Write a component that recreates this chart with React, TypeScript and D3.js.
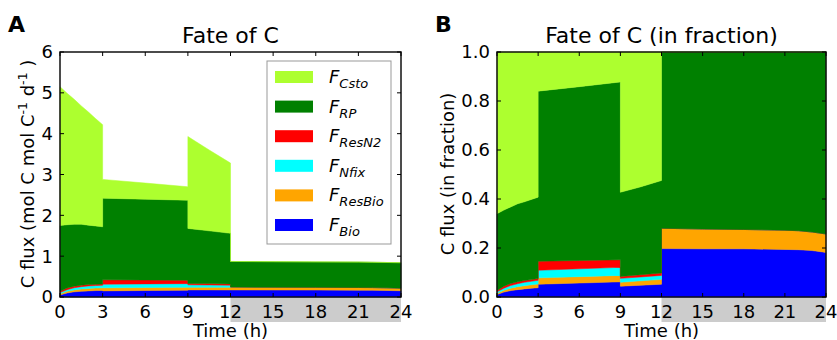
import React, { useEffect, useRef } from "react";
import * as d3 from "d3";

// time points (h); repeated times mark the light/dark switches
const times = [0, 0.5, 1, 1.5, 2, 2.5, 3, 3, 6, 9, 9, 10.5, 12, 12, 15, 18, 21, 22, 23, 24];

// carbon fluxes (mol C mol C-1 d-1)
const fBio = [0.05, 0.1, 0.126, 0.14, 0.15, 0.157, 0.16, 0.15, 0.159, 0.167, 0.173, 0.173, 0.171, 0.172, 0.17, 0.169, 0.166, 0.164, 0.16, 0.153];
const fResBio = [0.027, 0.04, 0.048, 0.057, 0.058, 0.062, 0.064, 0.075, 0.073, 0.071, 0.063, 0.065, 0.065, 0.072, 0.07, 0.068, 0.067, 0.066, 0.064, 0.063];
const fNfix = [0.031, 0.04, 0.053, 0.056, 0.064, 0.061, 0.063, 0.089, 0.089, 0.089, 0.063, 0.057, 0.053, 0, 0, 0, 0, 0, 0, 0];
const fResN2 = [0.031, 0.04, 0.039, 0.037, 0.032, 0.03, 0.03, 0.106, 0.095, 0.083, 0.031, 0.033, 0.032, 0, 0, 0, 0, 0, 0, 0];
const fRP = [1.611, 1.55, 1.514, 1.49, 1.456, 1.43, 1.403, 2.0, 1.979, 1.96, 1.35, 1.292, 1.239, 0.626, 0.625, 0.623, 0.622, 0.62, 0.621, 0.624];
const fCsto = [3.4, 3.22, 3.06, 2.9, 2.77, 2.63, 2.5, 0.46, 0.395, 0.33, 2.25, 1.98, 1.72, 0, 0, 0, 0, 0, 0, 0];

const keys = ["bio", "resBio", "nfix", "resN2", "rp", "csto"];
const colors = ["#0000ff", "#ffa500", "#00ffff", "#ff0000", "#008000", "#adff2f"];
const legendSubs = ["Csto", "RP", "ResN2", "Nfix", "ResBio", "Bio"]; // top to bottom

const xTicks = [0, 3, 6, 9, 12, 15, 18, 21, 24];
const yTicksA = [0, 1, 2, 3, 4, 5, 6];
const yTicksB = [0, 0.2, 0.4, 0.6, 0.8, 1.0];

const rows = times.map((t, i) => ({
  t,
  bio: fBio[i],
  resBio: fResBio[i],
  nfix: fNfix[i],
  resN2: fResN2[i],
  rp: fRP[i],
  csto: fCsto[i],
}));

const FONT = "DejaVu Sans, sans-serif";

function drawPanel(svg, opt) {
  const { left, right, top, bottom, yDomain, yTicks, yFmt, offset, cls } = opt;
  const g = svg.append("g").attr("class", cls);

  const x = d3.scaleLinear().domain([0, 24]).range([left, right]);
  const y = d3.scaleLinear().domain(yDomain).range([bottom, top]);

  // dark period band under the axis
  g.append("rect")
    .attr("x", x(12)).attr("y", bottom)
    .attr("width", x(24) - x(12)).attr("height", 25)
    .attr("fill", "#cccccc");

  const stack = d3.stack().keys(keys).offset(offset);
  const series = stack(rows);
  const area = d3.area()
    .x(d => x(d.data.t))
    .y0(d => y(d[0]))
    .y1(d => y(d[1]));

  g.selectAll("path.layer").data(series).join("path")
    .attr("class", "layer")
    .attr("d", area)
    .attr("fill", (d, i) => colors[i])
    .attr("stroke", (d, i) => colors[i])
    .attr("stroke-width", 0.5);

  // frame
  g.append("rect")
    .attr("x", left).attr("y", top)
    .attr("width", right - left).attr("height", bottom - top)
    .attr("fill", "none").attr("stroke", "#111").attr("stroke-width", 1.5);

  // inward ticks on all sides
  xTicks.forEach(t => {
    g.append("line").attr("x1", x(t)).attr("x2", x(t)).attr("y1", bottom).attr("y2", bottom - 4).attr("stroke", "black");
    g.append("line").attr("x1", x(t)).attr("x2", x(t)).attr("y1", top).attr("y2", top + 4).attr("stroke", "black");
    g.append("text").attr("x", x(t)).attr("y", 318)
      .attr("text-anchor", "middle").attr("font-size", 18).attr("font-family", FONT)
      .text(t);
  });
  yTicks.forEach(v => {
    g.append("line").attr("x1", left).attr("x2", left + 4).attr("y1", y(v)).attr("y2", y(v)).attr("stroke", "black");
    g.append("line").attr("x1", right).attr("x2", right - 4).attr("y1", y(v)).attr("y2", y(v)).attr("stroke", "black");
    g.append("text").attr("x", left - 7).attr("y", y(v)).attr("dy", "0.36em")
      .attr("text-anchor", "end").attr("font-size", 18).attr("font-family", FONT)
      .text(yFmt(v));
  });

  g.append("text").attr("x", (left + right) / 2).attr("y", 337)
    .attr("text-anchor", "middle").attr("font-size", 18).attr("font-family", FONT)
    .text("Time (h)");

  g.append("text").attr("x", (left + right) / 2).attr("y", 43)
    .attr("text-anchor", "middle").attr("font-size", 22).attr("font-family", FONT)
    .text(opt.title);

  g.append("text").attr("x", opt.letterX).attr("y", 32)
    .attr("font-size", 22).attr("font-weight", "bold").attr("font-family", FONT)
    .text(opt.letter);

  return { g, x, y };
}

export default function App() {
  const ref = useRef(null);

  useEffect(() => {
    const svg = d3.select(ref.current);
    svg.selectAll("*").remove();

    const a = drawPanel(svg, {
      cls: "panelA", left: 60, right: 401, top: 52, bottom: 297,
      yDomain: [0, 6], yTicks: yTicksA, yFmt: d3.format("d"),
      offset: d3.stackOffsetNone, title: "Fate of C", letter: "A", letterX: 8,
    });
    const b = drawPanel(svg, {
      cls: "panelB", left: 497, right: 826, top: 52, bottom: 297,
      yDomain: [0, 1], yTicks: yTicksB, yFmt: d3.format(".1f"),
      offset: d3.stackOffsetExpand, title: "Fate of C (in fraction)", letter: "B", letterX: 435,
    });

    // y labels
    const ya = a.g.append("text")
      .attr("transform", "translate(34,174) rotate(-90)")
      .attr("text-anchor", "middle").attr("font-size", 18).attr("font-family", FONT);
    ya.append("tspan").text("C flux (mol C mol C");
    ya.append("tspan").attr("dy", -7).attr("font-size", 12.5).text("-1");
    ya.append("tspan").attr("dy", 7).text(" d");
    ya.append("tspan").attr("dy", -7).attr("font-size", 12.5).text("-1");
    ya.append("tspan").attr("dy", 7).text(" )");

    b.g.append("text")
      .attr("transform", "translate(454,174) rotate(-90)")
      .attr("text-anchor", "middle").attr("font-size", 18).attr("font-family", FONT)
      .text("C flux (in fraction)");

    // legend
    const lg = a.g.append("g").attr("class", "legend");
    lg.append("rect").attr("x", 267).attr("y", 61).attr("width", 124).attr("height", 183)
      .attr("fill", "white").attr("stroke", "#999999").attr("stroke-width", 1);
    legendSubs.forEach((s, i) => {
      const cy = 77 + i * 29.6;
      const c = colors[colors.length - 1 - i];
      lg.append("rect").attr("x", 275).attr("y", cy - 6).attr("width", 38).attr("height", 12)
        .attr("fill", c);
      const t = lg.append("text").attr("x", 329).attr("y", cy + 6)
        .attr("font-size", 18).attr("font-style", "italic").attr("font-family", FONT);
      t.append("tspan").text("F");
      t.append("tspan").attr("dy", 5).attr("font-size", 13).text(s);
    });
  }, []);

  return (
    <svg ref={ref} width={837} height={340} style={{ position: "absolute", left: 0, top: 0, background: "white" }} />
  );
}
